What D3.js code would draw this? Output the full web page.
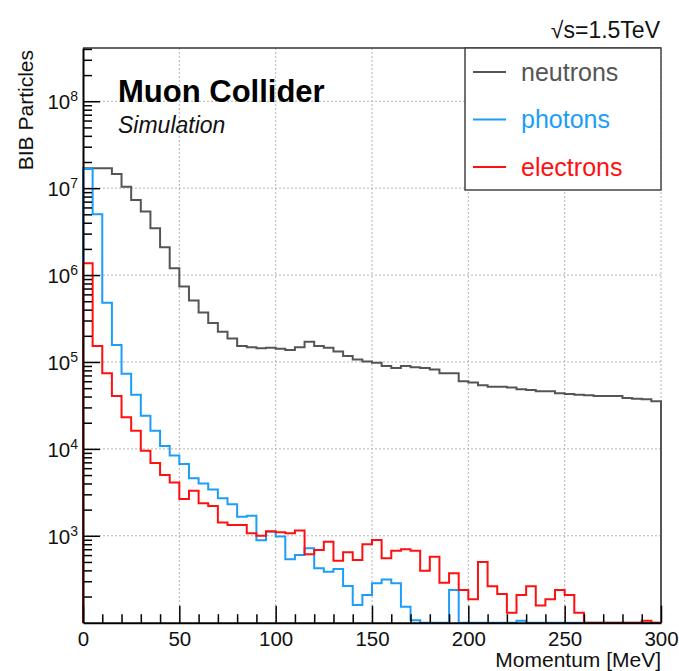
<!DOCTYPE html>
<html lang="en">
<head>
  <meta charset="utf-8">
  <title>BIB Particles vs Momentum</title>
  <style>
    body { margin: 0; background: #fff; }
    svg { display: block; font-family: "Liberation Sans", Arial, Helvetica, sans-serif; }
  </style>
</head>
<body>
  <script src="https://cdnjs.cloudflare.com/ajax/libs/d3/7.8.5/d3.min.js"></script>
  <script type="text/javascript">
  // bin lower edges in MeV (5 MeV bins)
  const binLow = d3.range(0, 300, 5);

  const neutrons = [
    1.7e7, 1.7e7, 1.7e7, 1.46e7, 1.04e7, 7.3e6, 5.4e6, 3.45e6, 2.09e6, 1.2e6,
    7.4e5, 5.1e5, 3.7e5, 2.8e5, 2.23e5, 1.86e5, 1.53e5, 1.48e5, 1.44e5, 1.46e5,
    1.42e5, 1.37e5, 1.48e5, 1.71e5, 1.53e5, 1.46e5, 1.32e5, 1.17e5, 1.07e5, 1.01e5,
    9.8e4, 9.0e4, 8.5e4, 9.0e4, 8.7e4, 8.5e4, 8.2e4, 7.4e4, 7.4e4, 6.0e4,
    5.8e4, 5.4e4, 5.2e4, 5.2e4, 5.1e4, 4.85e4, 4.76e4, 4.6e4, 4.6e4, 4.37e4,
    4.29e4, 4.2e4, 4.14e4, 4.06e4, 4.06e4, 4.06e4, 3.85e4, 3.78e4, 3.72e4, 3.53e4
  ];

  const photons = [
    1.66e7, 5.0e6, 4.8e5, 1.57e5, 7.3e4, 4.2e4, 2.4e4, 1.62e4, 1.08e4, 8400,
    6700, 4600, 4000, 3400, 2700, 2300, 1660, 1700, 890, 1110,
    980, 537, 600, 718, 423, 386, 415, 264, 160, 208,
    284, 315, 284, 153, 107, 0, 0, 0, 238, 0,
    0, 0, 0, 0, 0, 105, 0, 0, 0, 0,
    0, 0, 0, 0, 0, 0, 0, 0, 0, 0
  ];

  const electrons = [
    1.37e6, 1.53e5, 7.4e4, 4.06e4, 2.31e4, 1.62e4, 9500, 6900, 5000, 4100,
    2650, 3300, 2370, 2200, 1420, 1330, 1330, 1070, 1000, 1130,
    1100, 1070, 1150, 612, 687, 855, 516, 646, 526, 798,
    895, 551, 675, 700, 675, 396, 575, 288, 370, 238,
    186, 500, 263, 214, 130, 209, 263, 158, 186, 238,
    209, 130, 0, 0, 0, 0, 0, 0, 105, 0
  ];

  const series = [
    {name: "neutrons", values: neutrons, color: "#555555"},
    {name: "photons", values: photons, color: "#1c9ef8"},
    {name: "electrons", values: electrons, color: "#ff1010"}
  ];

  const xTicks = [0, 50, 100, 150, 200, 250, 300];
  const yDecades = [3, 4, 5, 6, 7, 8];

  const margin = {top: 48, right: 18, bottom: 48.3, left: 83},
        width = 679 - margin.left - margin.right,
        height = 671 - margin.top - margin.bottom;

  const yMin = 100, yMax = 4.1e8;

  const root = d3.select("body")
    .append("svg")
    .attr("width", 679)
    .attr("height", 671);

  const svg = root.append("g")
    .attr("transform", `translate(${margin.left}, ${margin.top})`);

  const xScale = d3.scaleLinear().domain([0, 300]).range([0, width]);
  const yScale = d3.scaleLog().domain([yMin, yMax]).range([height, 0]);

  // grid
  svg.append("g")
    .selectAll("line")
    .data(yDecades.map(e => Math.pow(10, e)))
    .join("line")
    .attr("x1", 0).attr("x2", width)
    .attr("y1", d => yScale(d)).attr("y2", d => yScale(d))
    .attr("stroke", "#b4b4b4").attr("stroke-dasharray", "2,2");

  svg.append("g")
    .selectAll("line")
    .data(xTicks.slice(1))
    .join("line")
    .attr("x1", d => xScale(d)).attr("x2", d => xScale(d))
    .attr("y1", 0).attr("y2", height)
    .attr("stroke", "#b4b4b4").attr("stroke-dasharray", "2,2");

  // histograms
  const line = d3.line()
    .x(d => xScale(d[0]))
    .y(d => yScale(Math.max(d[1], yMin)))
    .curve(d3.curveStepAfter);

  svg.append("defs").append("clipPath").attr("id", "clip")
    .append("rect").attr("x", -2).attr("y", 0).attr("width", width + 4).attr("height", height + 1);

  series.forEach(s => {
    const pts = [[0, yMin]];
    binLow.forEach((b, i) => pts.push([b, s.values[i]]));
    pts.push([300, s.values[s.values.length - 1]]);
    pts.push([300, yMin]);
    svg.append("path")
      .datum(pts)
      .attr("clip-path", "url(#clip)")
      .attr("fill", "none")
      .attr("stroke", s.color)
      .attr("stroke-width", 2)
      .attr("d", line);
  });

  // top frame
  svg.append("line")
    .attr("x1", 0).attr("x2", width).attr("y1", 0).attr("y2", 0)
    .attr("stroke", "#333").attr("stroke-width", 1.5);

  // x axis
  const xMinor = d3.range(10, 300, 10).filter(v => v % 50 !== 0);

  svg.append("g")
    .attr("transform", `translate(0, ${height})`)
    .call(d3.axisBottom(xScale).tickValues(xMinor).tickSizeInner(-8.5).tickSizeOuter(0).tickFormat(""))
    .call(g => g.select(".domain").remove())
    .call(g => g.selectAll(".tick line").attr("stroke", "#000").attr("stroke-width", 1.5));

  const xAxisGroup = svg.append("g")
    .attr("transform", `translate(0, ${height})`)
    .call(d3.axisBottom(xScale).tickValues(xTicks).tickSizeInner(-17).tickSizeOuter(0).tickPadding(9).tickFormat(d3.format("d")));

  xAxisGroup.select(".domain").attr("stroke", "#000").attr("stroke-width", 2);
  xAxisGroup.selectAll(".tick line").attr("stroke", "#000").attr("stroke-width", 1.5);
  xAxisGroup.selectAll(".tick text")
    .attr("font-size", 20.5).attr("fill", "#111")
    .attr("font-family", "Liberation Sans, Arial, sans-serif");

  // y axis
  const yMinor = [];
  d3.range(2, 9).forEach(e => {
    d3.range(2, 10).forEach(m => {
      const v = m * Math.pow(10, e);
      if (v < yMax) yMinor.push(v);
    });
  });

  svg.append("g")
    .call(d3.axisLeft(yScale).tickValues(yMinor).tickSizeInner(-9).tickSizeOuter(0).tickFormat(""))
    .call(g => g.select(".domain").remove())
    .call(g => g.selectAll(".tick line").attr("stroke", "#000").attr("stroke-width", 1.5));

  const yAxisGroup = svg.append("g")
    .call(d3.axisLeft(yScale).tickValues(yDecades.map(e => Math.pow(10, e))).tickSizeInner(-17).tickSizeOuter(0).tickPadding(5));

  yAxisGroup.select(".domain").attr("stroke", "#000").attr("stroke-width", 2);
  yAxisGroup.selectAll(".tick line").attr("stroke", "#000").attr("stroke-width", 1.5);
  yAxisGroup.selectAll(".tick text")
    .attr("font-size", 20.5).attr("fill", "#111").attr("dy", "0.37em")
    .attr("font-family", "Liberation Sans, Arial, sans-serif")
    .each(function(d) {
      const t = d3.select(this);
      t.text(null);
      t.append("tspan").text("10");
      t.append("tspan").attr("dy", -8).attr("font-size", 14).text(Math.round(Math.log10(d)));
    });

  // axis titles
  svg.append("text")
    .attr("transform", `translate(${33 - margin.left}, 2) rotate(-90)`)
    .attr("text-anchor", "end")
    .attr("font-size", 21)
    .attr("fill", "#111")
    .text("BIB Particles");

  svg.append("text")
    .attr("x", width)
    .attr("y", 667 - margin.top)
    .attr("text-anchor", "end")
    .attr("font-size", 21)
    .attr("fill", "#111")
    .text("Momentum [MeV]");

  // labels
  svg.append("text")
    .attr("x", 118 - margin.left)
    .attr("y", 102 - margin.top)
    .attr("font-size", 31)
    .attr("font-weight", "bold")
    .attr("fill", "#000")
    .text("Muon Collider");

  svg.append("text")
    .attr("x", 118 - margin.left)
    .attr("y", 133 - margin.top)
    .attr("font-size", 23)
    .attr("font-style", "italic")
    .attr("fill", "#111")
    .text("Simulation");

  svg.append("text")
    .attr("x", width - 1)
    .attr("y", 38 - margin.top)
    .attr("text-anchor", "end")
    .attr("font-size", 23)
    .attr("fill", "#111")
    .text("\u221As=1.5TeV");

  // legend
  const legendX = 465 - margin.left;
  const legend = svg.append("g");

  legend.append("rect")
    .attr("x", legendX)
    .attr("y", 0)
    .attr("width", width - legendX)
    .attr("height", 142)
    .attr("fill", "#fff")
    .attr("stroke", "#444")
    .attr("stroke-width", 1.5);

  const legendRows = [72 - margin.top, 119.5 - margin.top, 167 - margin.top];

  const items = legend.selectAll(".legend")
    .data(series)
    .join("g")
    .attr("class", "legend")
    .attr("transform", (d, i) => `translate(${legendX}, ${legendRows[i]})`);

  items.append("line")
    .attr("x1", 8).attr("x2", 41)
    .attr("stroke", d => d.color)
    .attr("stroke-width", 2);

  items.append("text")
    .attr("x", 56)
    .attr("dy", "0.35em")
    .attr("font-size", 25)
    .attr("fill", d => d.color)
    .text(d => d.name);
  </script>
</body>
</html>
